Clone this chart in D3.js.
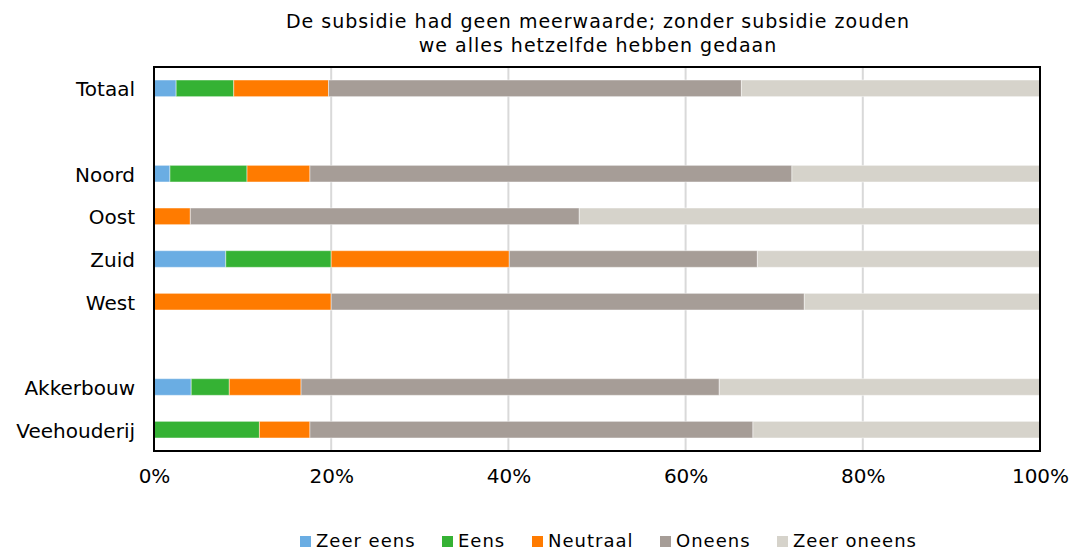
<!DOCTYPE html>
<html>
<head>
<meta charset="utf-8">
<script src="https://cdn.jsdelivr.net/npm/d3@7"></script>
<style>
  body { margin: 0; background: #fff; }
  svg { font-family: "DejaVu Sans", Verdana, sans-serif; }
</style>
</head>
<body>
<svg id="chart" width="1072" height="550"></svg>
<script>
// categories (gap rows have empty labels)
var categories = ["Totaal", "gap1", "Noord", "Oost", "Zuid", "West", "gap2", "Akkerbouw", "Veehouderij"];
var series = ["Zeer eens", "Eens", "Neutraal", "Oneens", "Zeer oneens"];
var colors = ["#6aade3", "#35b234", "#ff7b00", "#a69d97", "#d6d3cb"];

// percentages per category, null for gap rows
var zeerEens   = [2.5, null, 1.8, 0,    8.1,  0,    null, 4.2,  0];
var eens       = [6.5, null, 8.7, 0,    11.9, 0,    null, 4.3,  11.9];
var neutraal   = [10.7, null, 7.1, 4.1, 20.1, 20.0, null, 8.1,  5.7];
var oneens     = [46.6, null, 54.4, 43.9, 28.0, 53.4, null, 47.2, 50.0];
var zeerOneens = [33.7, null, 28.0, 52.0, 31.9, 26.6, null, 36.2, 32.4];

var xTicks = [0, 20, 40, 60, 80, 100];

var title = ["De subsidie had geen meerwaarde; zonder subsidie zouden", "we alles hetzelfde hebben gedaan"];

var svg = d3.select('#chart');

var plotLeft = 154, plotRight = 1040, plotTop = 67, plotBottom = 451;

var x = d3.scaleLinear().domain([0, 100]).range([plotLeft, plotRight]);
var y = d3.scaleBand().domain(categories).range([plotTop, plotBottom]).paddingInner(0.61).paddingOuter(0.305);

// build table for the stack
var values = [zeerEens, eens, neutraal, oneens, zeerOneens];
var table = categories.map(function(c, i) {
    var row = { cat: c };
    series.forEach(function(s, j) { row[s] = values[j][i] || 0; });
    return row;
}).filter(function(r, i) { return zeerEens[i] !== null; });

var stacked = d3.stack().keys(series)(table);

// gridlines
svg.append('g')
    .selectAll('line')
    .data(xTicks.slice(1, -1))
    .join('line')
    .attr('x1', function(d) { return x(d); })
    .attr('x2', function(d) { return x(d); })
    .attr('y1', plotTop)
    .attr('y2', plotBottom)
    .attr('stroke', '#d9d9d9')
    .attr('stroke-width', 2);

// bars
svg.append('g')
    .selectAll('g')
    .data(stacked)
    .join('g')
    .attr('fill', function(d, i) { return colors[i]; })
    .selectAll('rect')
    .data(function(d) { return d; })
    .join('rect')
    .attr('x', function(d) { return x(d[0]); })
    .attr('width', function(d) { return x(d[1]) - x(d[0]); })
    .attr('y', function(d) { return y(d.data.cat); })
    .attr('height', y.bandwidth())
    .attr('stroke', '#ffffff')
    .attr('stroke-opacity', 0.45)
    .attr('stroke-width', 1);

// plot border
svg.append('rect')
    .attr('x', plotLeft)
    .attr('y', plotTop)
    .attr('width', plotRight - plotLeft)
    .attr('height', plotBottom - plotTop)
    .attr('fill', 'none')
    .attr('stroke', '#000')
    .attr('stroke-width', 2);

// y axis labels
var yAxis = svg.append('g')
    .attr('transform', 'translate(' + (plotLeft - 19) + ',1.5)')
    .call(d3.axisLeft(y).tickSize(0).tickPadding(0)
        .tickFormat(function(d) { return d.indexOf('gap') === 0 ? '' : d; }));
yAxis.select('.domain').remove();
yAxis.selectAll('text')
    .attr('font-family', '"DejaVu Sans", Verdana, sans-serif')
    .attr('font-size', 20)
    .attr('fill', '#000');

// x axis labels
var xAxis = svg.append('g')
    .attr('transform', 'translate(0,' + plotBottom + ')')
    .call(d3.axisBottom(x).tickValues(xTicks).tickSize(0).tickPadding(18)
        .tickFormat(function(d) { return d + '%'; }));
xAxis.select('.domain').remove();
xAxis.selectAll('text')
    .attr('font-family', '"DejaVu Sans", Verdana, sans-serif')
    .attr('font-size', 20)
    .attr('fill', '#000');

// title
svg.append('g')
    .selectAll('text')
    .data(title)
    .join('text')
    .attr('x', 598)
    .attr('y', function(d, i) { return 27.5 + i * 24.3; })
    .attr('text-anchor', 'middle')
    .attr('font-size', 19)
    .attr('letter-spacing', 1)
    .attr('fill', '#000')
    .text(function(d) { return d; });

// legend
var legendX = [300, 442, 532, 660, 777];
var legend = svg.append('g')
    .selectAll('g')
    .data(series)
    .join('g')
    .attr('transform', function(d, i) { return 'translate(' + legendX[i] + ',536)'; });
legend.append('rect')
    .attr('width', 11)
    .attr('height', 11)
    .attr('fill', function(d, i) { return colors[i]; });
legend.append('text')
    .attr('x', 16)
    .attr('y', 11.3)
    .attr('font-size', 18)
    .attr('letter-spacing', 1)
    .attr('fill', '#000')
    .text(function(d) { return d; });
</script>
</body>
</html>
